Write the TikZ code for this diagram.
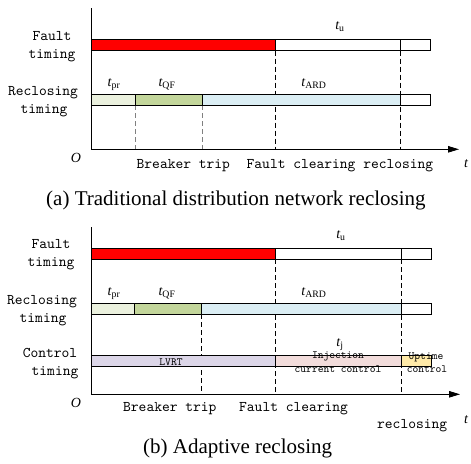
\documentclass[tikz,border=0pt]{standalone}
\usepackage{fontspec}
\setmainfont{Liberation Serif}
\newfontfamily\monofont{lmmono10-regular.otf}
\usetikzlibrary{arrows.meta}
\definecolor{cRed}{HTML}{FF0000}
\definecolor{cPr}{HTML}{EBF1DE}
\definecolor{cQF}{HTML}{C3D69B}
\definecolor{cARD}{HTML}{DBEEF4}
\definecolor{cLV}{HTML}{DCD6E8}
\definecolor{cInj}{HTML}{F2DCDB}
\definecolor{cUp}{HTML}{FFEAA8}
\tikzset{
  lbl/.style={font=\monofont\fontsize{14.8}{16}\selectfont, inner sep=0pt, anchor=base},
  sml/.style={font=\monofont\fontsize{11}{12}\selectfont, inner sep=0pt, anchor=base},
  tlab/.style={font=\fontsize{14}{16}\selectfont, inner sep=0pt, anchor=base},
  caplab/.style={font=\fontsize{21}{24}\selectfont, inner sep=0pt, anchor=base west},
  bar/.style={draw=black, line width=0.8pt},
  dsh/.style={dashed, dash pattern=on 5pt off 3pt, line width=0.8pt},
  axis/.style={line width=0.9pt, -{Triangle[length=11pt,width=6.5pt]}},
}
\newcommand{\tl}[2]{{\itshape t}\textsubscript{#1}}
\begin{document}
\begin{tikzpicture}[x=1pt,y=-1pt]
\useasboundingbox (0,0) rectangle (471,463);
% ================= panel (a) =================
% dashed guides
\draw[dsh, gray] (135,105.3) -- (135,149.3);
\draw[dsh, gray] (202,105.3) -- (202,149.3);
\draw[dsh] (275.3,50.5) -- (275.3,149.3);
\draw[dsh] (400.3,50.5) -- (400.3,149.3);
% axes
\draw[axis] (91.5,8) -- (91.5,149.3) -- (459,149.3);
% fault bar
\draw[bar, fill=cRed] (91.5,39.5) rectangle (275.3,50.5);
\draw[bar, fill=white] (275.3,39.5) rectangle (400.3,50.5);
\draw[bar, fill=white] (400.3,39.5) rectangle (430,50.5);
% reclosing bar
\draw[bar, fill=cPr] (91.5,94.3) rectangle (135,105.3);
\draw[bar, fill=cQF] (135,94.3) rectangle (202,105.3);
\draw[bar, fill=cARD] (202,94.3) rectangle (400.3,105.3);
\draw[bar, fill=white] (400.3,94.3) rectangle (430,105.3);
% labels
\node[lbl] (fa1) at (52,40) {Fault};
\node[lbl] (fa2) at (52,58) {timing};
\node[lbl] (ra1) at (43,95) {Reclosing};
\node[lbl] (ra2) at (44,113) {timing};
\node[tlab] (tua) at (340,29) {\tl{u}{}};
\node[tlab] (tpra) at (114,86) {\tl{pr}{}};
\node[tlab] (tqfa) at (167,86) {\tl{QF}{}};
\node[tlab] (tarda) at (314,86) {\tl{ARD}{}};
\node[tlab] (oa) at (76,162) {\itshape O};
\node[tlab] (ta) at (466,167) {\itshape t};
\node[lbl, anchor=base west] (bta) at (136.5,168) {Breaker trip};
\node[lbl, anchor=base west] (fca) at (246.5,168) {Fault clearing reclosing};
\node[caplab] (capa) at (46,205) {(a) Traditional distribution network reclosing};
% ================= panel (b) =================
\draw[dsh] (275.7,259.3) -- (275.7,394.3);
\draw[dsh] (401.7,259.3) -- (401.7,394.3);
\draw[dsh] (201.7,314.3) -- (201.7,394.3);
\draw[axis] (91,227) -- (91,394.3) -- (460,394.3);
% fault bar
\draw[bar, fill=cRed] (91,248.3) rectangle (275.7,259.3);
\draw[bar, fill=white] (275.7,248.3) rectangle (401.7,259.3);
\draw[bar, fill=white] (401.7,248.3) rectangle (431.5,259.3);
% reclosing bar
\draw[bar, fill=cPr] (91,303.3) rectangle (134.7,314.3);
\draw[bar, fill=cQF] (134.7,303.3) rectangle (201.7,314.3);
\draw[bar, fill=cARD] (201.7,303.3) rectangle (401.7,314.3);
\draw[bar, fill=white] (401.7,303.3) rectangle (431,314.3);
% control bar
\draw[bar, fill=cLV] (91,355.7) rectangle (275.7,366.7);
\draw[bar, fill=cInj] (275.7,355.7) rectangle (401.7,366.7);
\draw[bar, fill=cUp] (401.7,355.7) rectangle (431,366.7);
% labels
\node[lbl] (fb1) at (51,248) {Fault};
\node[lbl] (fb2) at (51,266) {timing};
\node[lbl] (rb1) at (42,304) {Reclosing};
\node[lbl] (rb2) at (43,322) {timing};
\node[lbl] (cb1) at (50,357) {Control};
\node[lbl] (cb2) at (55,375) {timing};
\node[tlab] (tub) at (341,238) {\tl{u}{}};
\node[tlab] (tprb) at (114,295) {\tl{pr}{}};
\node[tlab] (tqfb) at (167,295) {\tl{QF}{}};
\node[tlab] (tardb) at (314,295) {\tl{ARD}{}};
\node[tlab] (tjb) at (340,346) {\tl{j}{}};
\node[sml] (lvrt) at (171,365) {LVRT};
\node[sml] (inj1) at (338,358.5) {Injection};
\node[sml] (inj2) at (338,372) {current control};
\node[sml] (up1) at (426,359) {Uptime};
\node[sml] (up2) at (427,372) {control};
\node[tlab] (ob) at (76,407) {\itshape O};
\node[tlab] (tb) at (466,423) {\itshape t};
\node[lbl, anchor=base west] (btb) at (123,411) {Breaker trip};
\node[lbl, anchor=base west] (fcb) at (239,411) {Fault clearing};
\node[lbl, anchor=base west] (rcb) at (377,428) {reclosing};
\node[caplab] (capb) at (143,453) {(b) Adaptive reclosing};
\end{tikzpicture}
\end{document}
